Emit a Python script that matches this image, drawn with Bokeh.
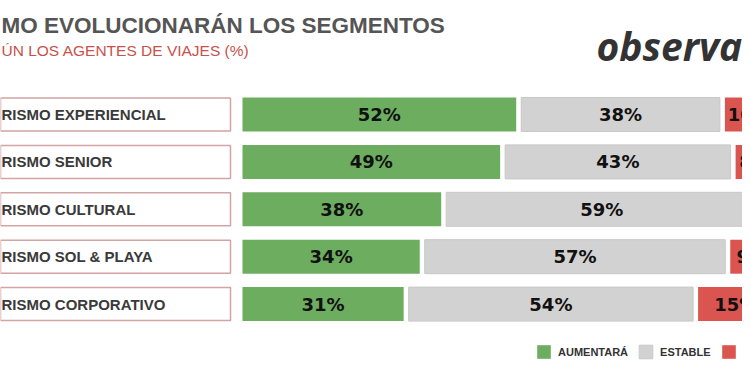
from bokeh.plotting import figure
from bokeh.models import Range1d, Label, Legend, LegendItem, ColumnDataSource
from bokeh.core.properties import value
from bokeh.embed import file_html
from bokeh.resources import INLINE
import numpy as np

# ---- data ----
categories = ["RISMO EXPERIENCIAL", "RISMO SENIOR", "RISMO CULTURAL",
              "RISMO SOL & PLAYA", "RISMO CORPORATIVO"]
aumentara = [52, 49, 38, 34, 31]
estable = [38, 43, 59, 57, 54]
disminuira = [10, 8, 3, 9, 15]
series_names = ["AUMENTARÁ", "ESTABLE", "DISMINUIRÁ"]
title_text = "MO EVOLUCIONARÁN LOS SEGMENTOS"
subtitle_text = "ÚN LOS AGENTES DE VIAJES (%)"
logo_text = "observa"

# ---- layout constants ----
W, H = 742, 367
K = 5.36          # px per percentage point
ORIGIN = 239.5    # px position of 0
GAP = 5 / K
ROW = 47.4
ROW0 = 114

colors = ["#6cad60", "#d3d2d2", "#db5550"]

x0 = -ORIGIN / K
x1 = x0 + W / K
ytop = -ROW0 / ROW
ybot = (H - ROW0) / ROW

p = figure(width=W, height=H, x_range=Range1d(x0, x1), y_range=Range1d(ybot, ytop),
           output_backend="svg", toolbar_location=None, min_border=0,
           x_axis_location=None, y_axis_location=None)
p.grid.visible = False
p.outline_line_color = None
p.background_fill_color = "white"

rows = list(range(len(categories)))

# category boxes
p.hbar(y=rows, left=x0 - 5, right=(230 - ORIGIN) / K, height=33 / ROW,
       fill_color="white", line_color="#d4a3a3", line_width=1.5)
p.text(x=[x0 + 1 / K] * len(rows), y=rows, text=categories,
       text_font=value("Liberation Sans"), text_font_style="bold",
       text_font_size="15px", text_color="#3a3a3a",
       text_align="left", text_baseline="middle")

vals = np.array([aumentara, estable, disminuira], dtype=float)
ends = np.cumsum(vals, axis=0)
starts = ends - vals

renderers = []
for i in range(3):
    src = ColumnDataSource(dict(y=rows, left=starts[i] + GAP / 2, right=ends[i] - GAP / 2))
    r = p.hbar(y="y", left="left", right="right", height=34 / ROW, source=src,
               fill_color=colors[i],
               line_color="#c8c8c8" if i == 1 else None, line_width=1)
    renderers.append(r)
    p.text(x=(starts[i] + ends[i]) / 2, y=rows,
           text=[f"{int(v)}%" for v in vals[i]],
           text_font=value("DejaVu Sans"), text_font_style="bold",
           text_font_size="18px", text_color="#111111",
           text_align="center", text_baseline="middle")

legend = Legend(items=[LegendItem(label=n, renderers=[r]) for n, r in zip(series_names, renderers)],
                orientation="horizontal", location=(535, 7),
                glyph_width=17, glyph_height=17, label_height=17,
                label_standoff=6, spacing=9, padding=0, margin=0,
                border_line_color=None, background_fill_alpha=0,
                label_text_font="Liberation Sans", label_text_font_size="11px",
                label_text_font_style="bold", label_text_color="#333333")
p.add_layout(legend)

p.add_layout(Label(x=1, y=H - 25, x_units="screen", y_units="screen", text=title_text,
                   text_font="Liberation Sans", text_font_size="22.5px", text_font_style="bold",
                   text_color="#555555", text_baseline="alphabetic"))
p.add_layout(Label(x=1, y=H - 50, x_units="screen", y_units="screen", text=subtitle_text,
                   text_font="Liberation Sans", text_font_size="15.5px",
                   text_color="#c9514b", text_baseline="alphabetic"))
p.add_layout(Label(x=596, y=H - 45, x_units="screen", y_units="screen", text=logo_text,
                   text_font="Open Sans", text_font_size="39px", text_font_style="bold italic",
                   text_color="#333333", text_baseline="alphabetic"))

open("out.html", "w").write(file_html(p, INLINE))
